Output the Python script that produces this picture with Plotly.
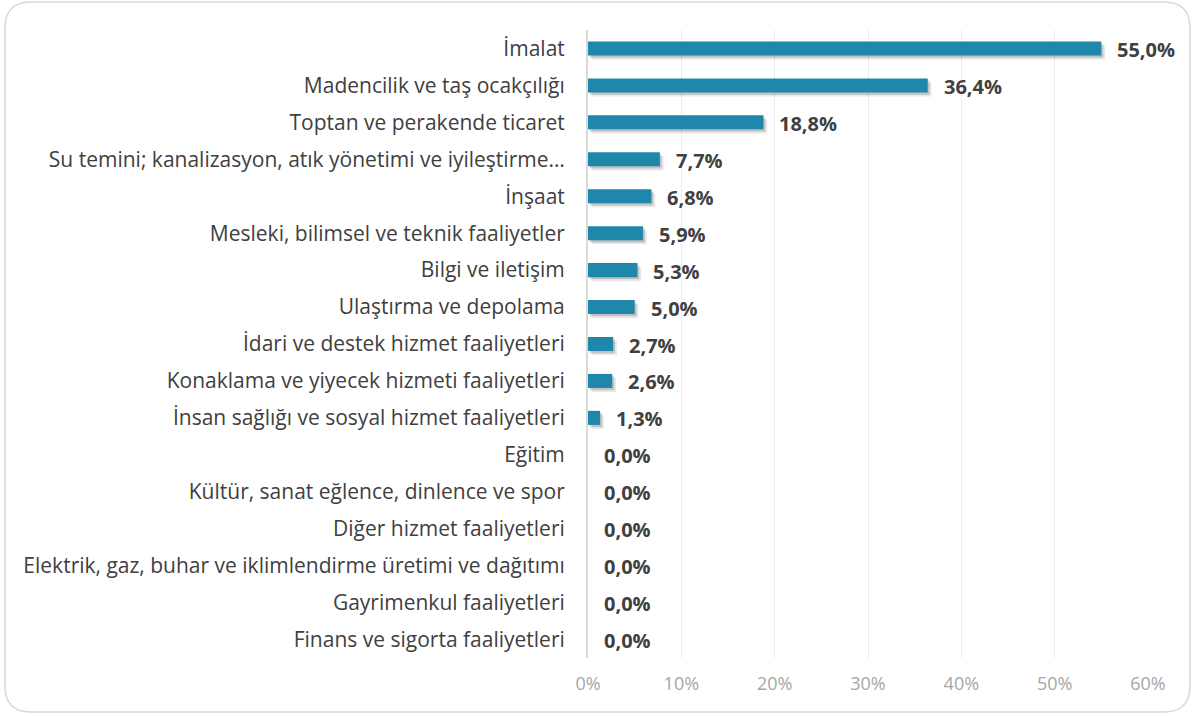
import plotly.graph_objects as go

categories = [
    "İmalat",
    "Madencilik ve taş ocakçılığı",
    "Toptan ve perakende ticaret",
    "Su temini; kanalizasyon, atık yönetimi ve iyileştirme…",
    "İnşaat",
    "Mesleki, bilimsel ve teknik faaliyetler",
    "Bilgi ve iletişim",
    "Ulaştırma ve depolama",
    "İdari ve destek hizmet faaliyetleri",
    "Konaklama ve yiyecek hizmeti faaliyetleri",
    "İnsan sağlığı ve sosyal hizmet faaliyetleri",
    "Eğitim",
    "Kültür, sanat eğlence, dinlence ve spor",
    "Diğer hizmet faaliyetleri",
    "Elektrik, gaz, buhar ve iklimlendirme üretimi ve dağıtımı",
    "Gayrimenkul faaliyetleri",
    "Finans ve sigorta faaliyetleri",
]
values = [55.0, 36.4, 18.8, 7.7, 6.8, 5.9, 5.3, 5.0, 2.7, 2.6, 1.3, 0.0, 0.0, 0.0, 0.0, 0.0, 0.0]
tick_vals = [0, 10, 20, 30, 40, 50, 60]
tick_text = ["0%", "10%", "20%", "30%", "40%", "50%", "60%"]

FONT = "Open Sans"
BAR = "#1F88AA"

W, H = 1196, 716
ML, MR, MT, MB = 588, 48, 30, 58
BW = 0.38

fig = go.Figure()
# soft drop shadow (two layers)
fig.add_trace(go.Bar(
    y=categories, x=values, base=0.4, orientation="h",
    marker=dict(color="rgba(0,0,0,0.09)", line=dict(width=0)),
    width=BW, offset=-BW / 2 + 0.11, hoverinfo="skip", showlegend=False,
))
fig.add_trace(go.Bar(
    y=categories, x=values, base=0.2, orientation="h",
    marker=dict(color="rgba(0,0,0,0.17)", line=dict(width=0)),
    width=BW, offset=-BW / 2 + 0.06, hoverinfo="skip", showlegend=False,
))
fig.add_trace(go.Bar(
    y=categories, x=values, orientation="h",
    marker=dict(color=BAR, line=dict(width=0)),
    width=BW, offset=-BW / 2, showlegend=False,
))

for c, v in zip(categories, values):
    fig.add_annotation(
        x=v, y=c, xref="x", yref="y", text=f"{v:.1f}".replace(".", ",") + "%",
        showarrow=False, xanchor="left", xshift=14, yshift=-1,
        font=dict(family=FONT, size=20, color="#404040", weight="bold"),
    )

# rounded border around whole chart (paper coords)
pw, ph = W - ML - MR, H - MT - MB
def px(x):
    return (x - ML) / pw
def py(y):
    return (H - MB - y) / ph
x0, x1, y0, y1, r = 5, 1190, 2, 712, 26
path = (
    f"M {px(x0 + r)},{py(y0)} L {px(x1 - r)},{py(y0)} "
    f"Q {px(x1)},{py(y0)} {px(x1)},{py(y0 + r)} "
    f"L {px(x1)},{py(y1 - r)} Q {px(x1)},{py(y1)} {px(x1 - r)},{py(y1)} "
    f"L {px(x0 + r)},{py(y1)} Q {px(x0)},{py(y1)} {px(x0)},{py(y1 - r)} "
    f"L {px(x0)},{py(y0 + r)} Q {px(x0)},{py(y0)} {px(x0 + r)},{py(y0)} Z"
)
fig.add_shape(type="path", path=path, xref="paper", yref="paper",
              line=dict(color="#D9D9D9", width=1.5), layer="below")

fig.update_layout(
    width=W, height=H,
    margin=dict(l=ML, r=MR, t=MT, b=MB),
    paper_bgcolor="white", plot_bgcolor="white",
    barmode="overlay",
    font=dict(family=FONT),
    xaxis=dict(
        range=[0, 60], tickvals=tick_vals, ticktext=tick_text,
        showgrid=True, gridcolor="#ECECEC", gridwidth=1,
        zeroline=False, showline=False,
        tickfont=dict(family=FONT, size=18, color="#A6A6A6"),
        ticks="", ticklabelstandoff=13,
    ),
    yaxis=dict(
        autorange="reversed", showgrid=False, zeroline=False,
        showline=True, linecolor="#D9D9D9", linewidth=2,
        ticks="", ticklabelstandoff=17,
        tickfont=dict(family=FONT, size=21, color="#404040"),
    ),
)

fig.write_html("out.html", config={"displayModeBar": False},
               post_script="document.body.style.margin='0';")
